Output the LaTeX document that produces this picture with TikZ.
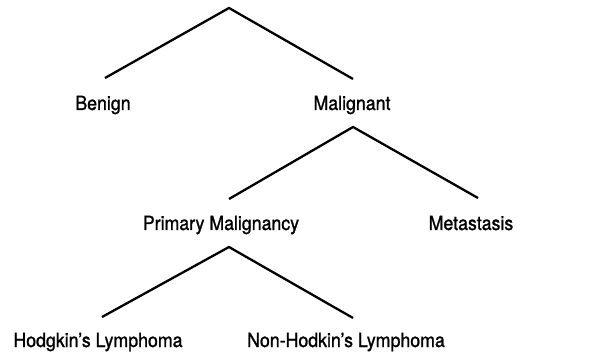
\documentclass[tikz,border=0pt]{standalone}
\usepackage{fontspec}
\setmainfont[FakeStretch=0.91,FakeBold=1.2]{TeX Gyre Heros}
\tikzset{
  leaf/.style={anchor=base,inner sep=0pt,font=\fontsize{19.5}{22}\selectfont},
  branch/.style={line width=2.3pt,line join=round}
}
\begin{document}
\begin{tikzpicture}[x=1pt,y=-1pt]
  \useasboundingbox (0,0) rectangle (612,352);
  % top level
  \coordinate (root) at (229,8);
  \coordinate (benignend) at (105,78);
  \coordinate (malignend) at (353,79);
  \node[leaf] (benign) at (103,110) {Benign};
  \node[leaf] (malignant) at (352,110) {Malignant};
  \draw[branch] (benignend)--(root)--(malignend);
  % malignant
  \coordinate (malig) at (353,127);
  \coordinate (primend) at (229,199);
  \coordinate (metaend) at (478,198);
  \node[leaf] (primary) at (221,230) {Primary Malignancy};
  \node[leaf] (metastasis) at (471,230) {Metastasis};
  \draw[branch] (primend)--(malig)--(metaend);
  % primary malignancy
  \coordinate (prim) at (229,247);
  \coordinate (hodgend) at (102,317);
  \coordinate (nonhodgend) at (353,318);
  \node[leaf] (hodgkin) at (98,347) {Hodgkin's Lymphoma};
  \node[leaf] (nonhodgkin) at (346,347) {Non-Hodkin's Lymphoma};
  \draw[branch] (hodgend)--(prim)--(nonhodgend);
\end{tikzpicture}
\end{document}
